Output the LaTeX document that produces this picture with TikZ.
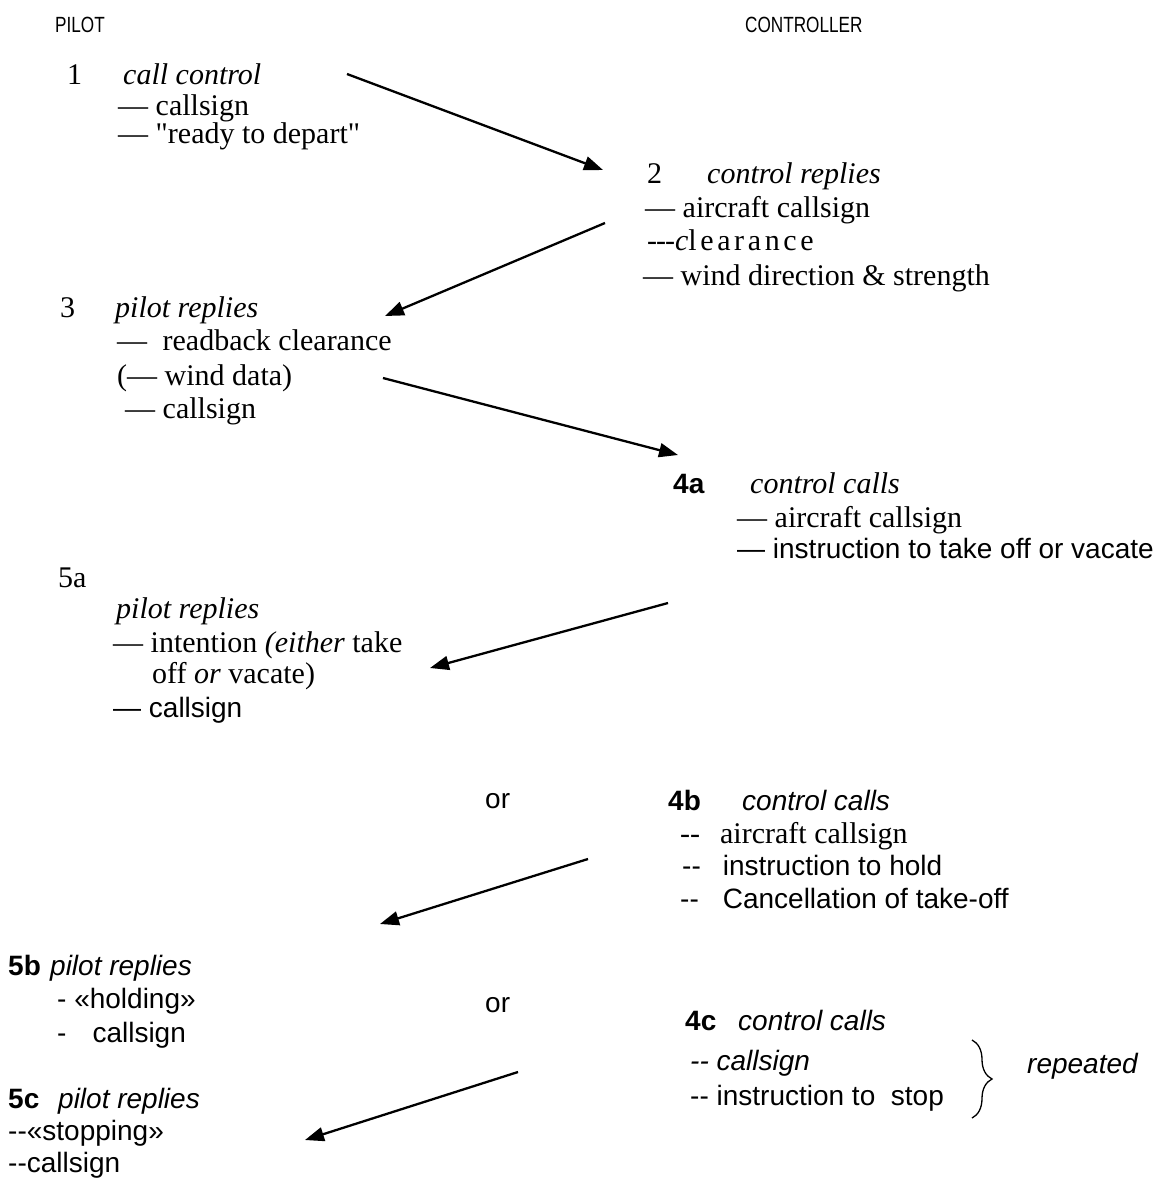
\documentclass[tikz,border=0pt]{standalone}
\usepackage{fontspec}
\newfontfamily\tmf{Liberation Serif}[Ligatures=TeXOff]
\newfontfamily\arf{Liberation Sans}[Ligatures=TeXOff]
\usetikzlibrary{arrows.meta, decorations.pathreplacing}

\tikzset{
  tm/.style={anchor=base west, inner sep=0pt, font=\tmf\fontsize{30}{34}\selectfont},
  ar/.style={anchor=base west, inner sep=0pt, font=\arf\fontsize{28}{32}\selectfont},
  arb/.style={ar, font=\arf\bfseries\fontsize{28}{32}\selectfont},
  ari/.style={ar, font=\arf\itshape\fontsize{28}{32}\selectfont},
  hd/.style={anchor=base west, inner sep=0pt, font=\arf\fontsize{22}{24}\selectfont},
  msg/.style={line width=2.3pt, -{Triangle[length=19pt,width=14pt]}},
}

\begin{document}
\begin{tikzpicture}[x=1pt, y=-1pt]
  \useasboundingbox (0,0) rectangle (1160,1184);

  \node[hd] (hpilot) at (55,32) {\scalebox{0.78}[1]{PILOT}};
  \node[hd] (hctrl) at (745,32) {\scalebox{0.78}[1]{CONTROLLER}};

  % pilot calls
  \node[tm] (p1) at (67,84) {1};
  \node[tm] (p1h) at (123,84) {\itshape call control};
  \node[tm] (p1a) at (118,115) {— callsign};
  \node[tm] (p1b) at (118,143) {— "ready to depart"};

  % control replies
  \node[tm] (c2) at (647,183) {2};
  \node[tm] (c2h) at (707,183) {\itshape control replies};
  \node[tm] (c2a) at (645,217) {— aircraft callsign};
  \node[tm] (c2b) at (647,250) {-\kern-1pt-\kern-1pt-\textit{c}{\addfontfeatures{LetterSpace=12}learance}};
  \node[tm] (c2c) at (643,285) {— wind direction \& strength};

  \node[tm] (p3) at (60,317) {3};
  \node[tm] (p3h) at (115,317) {\itshape pilot replies};
  \node[tm] (p3a) at (117,350) {—\hspace{8pt} readback clearance};
  \node[tm] (p3b) at (117,385) {(— wind data)};
  \node[tm] (p3c) at (125,418) {— callsign};

  \node[arb] (c4a) at (673,493) {4a};
  \node[tm] (c4ah) at (750,493) {\itshape control calls};
  \node[tm] (c4aa) at (737,527) {— aircraft callsign};
  \node[ar] (c4ab) at (737,558) {— instruction to take off or vacate};

  \node[tm] (p5a) at (58,587) {5a};
  \node[tm] (p5ah) at (116,618) {\itshape pilot replies};
  \node[tm] (p5aa) at (113,652) {— intention \textit{(either} take};
  \node[tm] (p5ab) at (152,683) {off \textit{or} vacate)};
  \node[ar] (p5ac) at (113,717) {— callsign};

  \node[ar] (or1) at (485,808) {or};
  \node[arb] (c4b) at (668,810) {4b};
  \node[ari] (c4bh) at (742,810) {control calls};
  \node[tm] (c4ba) at (680,843) {--\hspace{20pt}aircraft callsign};
  \node[ar] (c4bb) at (682,875) {--\hspace{22pt}instruction to hold};
  \node[ar] (c4bc) at (680,908) {--\hspace{24pt}Cancellation of take-off};

  \node[arb] (p5b) at (8,975) {5b};
  \node[ari] (p5bh) at (50,975) {pilot replies};
  \node[ar] (p5ba) at (57,1008) {- «holding»};
  \node[ar] (p5bb) at (57,1042) {-\hspace{26pt}callsign};
  \node[ar] (or2) at (485,1012) {or};

  \node[arb] (c4c) at (685,1030) {4c};
  \node[ari] (c4ch) at (738,1030) {control calls};
  \node[ari] (c4ca) at (690,1070) {-- callsign};
  \node[ar] (c4cb) at (690,1105) {-- instruction to\ \ stop};
  \node[ari] (rep) at (1027,1073) {repeated};

  \node[arb] (p5c) at (8,1108) {5c};
  \node[ari] (p5ch) at (58,1108) {pilot replies};
  \node[ar] (p5ca) at (8,1140) {--«stopping»};
  \node[ar] (p5cb) at (8,1172) {--callsign};

  % message arrows
  \coordinate (m1s) at (347,74);   \coordinate (m1e) at (603,170);
  \coordinate (m2s) at (605,223);  \coordinate (m2e) at (385,316);
  \coordinate (m3s) at (383,378);  \coordinate (m3e) at (678,455);
  \coordinate (m4s) at (668,603);  \coordinate (m4e) at (430,668);
  \coordinate (m5s) at (588,859);  \coordinate (m5e) at (380,924);
  \coordinate (m6s) at (518,1072); \coordinate (m6e) at (305,1140);
  \foreach \m in {1,...,6}
    \draw[msg] (m\m s) -- (m\m e);

  \coordinate (brt) at (972,1040);
  \coordinate (brb) at (972,1118);
  \draw[decorate, decoration={brace, amplitude=20pt}, line width=1.3pt] (brt) -- (brb);
\end{tikzpicture}
\end{document}
